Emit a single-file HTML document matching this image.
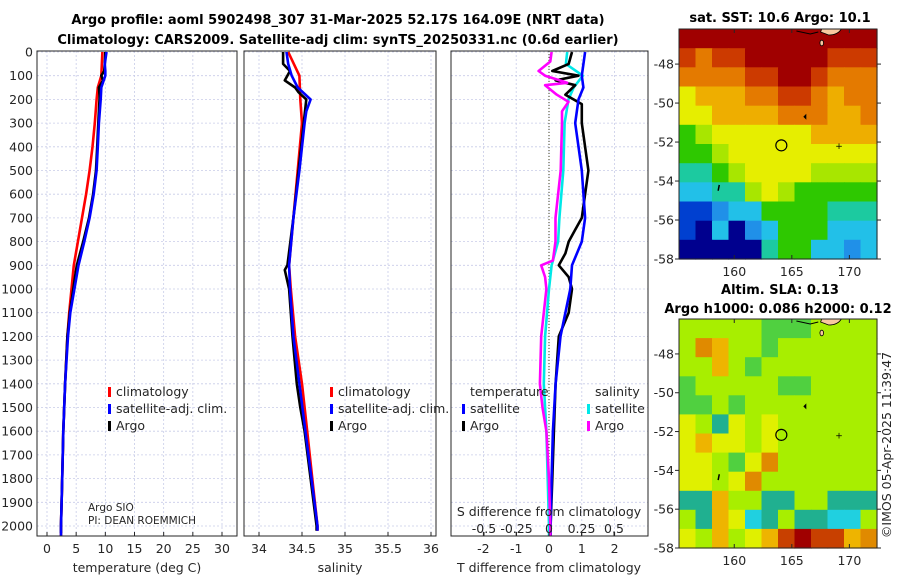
<!DOCTYPE html>
<html><head><meta charset="utf-8"><style>
body{margin:0;background:#fff;}
svg{display:block;font-family:"DejaVu Sans","Liberation Sans",sans-serif;}
</style></head><body>
<svg id="c" width="900" height="580"></svg>
<script>
// ---------- data ----------
const depthTicks=[0,100,200,300,400,500,600,700,800,900,1000,1100,1200,1300,1400,1500,1600,1700,1800,1900,2000];
const tempTicks=[0,5,10,15,20,25,30];
const salTicks=[34,34.5,35,35.5,36];
const salTickLabels=["34","34.5","35","35.5","36"];
const tdiffTicks=[-2,-1,0,1,2];
const sdiffTicks=[-0.5,-0.25,0,0.25,0.5];
const sdiffLabels=["-0.5","-0.25","0","0.25","0.5"];

const tClimDepth=[0,100,150,200,300,400,500,600,700,800,900,1000,1100,1200,1400,1600,1800,2000,2040];
const tClim=[9.5,9.3,8.7,8.5,8.2,7.8,7.3,6.7,6.0,5.3,4.6,4.2,3.8,3.5,3.1,2.8,2.6,2.4,2.4];
const tSatDepth=[0,50,80,100,150,200,300,400,500,600,700,800,900,1000,1100,1200,1400,1600,1800,2000,2040];
const tSat=[10.2,9.9,10.0,10.0,9.3,9.2,8.9,8.7,8.5,8.0,7.3,6.4,5.4,4.7,4.0,3.6,3.1,2.8,2.6,2.4,2.4];
const tArgoDepth=[0,50,80,100,120,150,180,200,300,400,500,600,700,800,900,950,1000,1100,1200,1400,1600,1800,2000,2030];
const tArgo=[10.0,9.9,9.8,9.3,9.6,8.9,9.0,9.0,8.8,8.6,8.4,7.9,7.2,6.2,5.1,4.8,4.5,3.9,3.5,3.1,2.8,2.6,2.4,2.4];

const sClimDepth=[0,100,200,300,500,700,900,1000,1200,1400,1600,1800,2000,2020];
const sClim=[34.34,34.47,34.48,34.5,34.45,34.4,34.35,34.37,34.42,34.5,34.56,34.62,34.68,34.68];
const sSatDepth=[0,50,100,150,200,250,300,500,700,900,1000,1200,1400,1600,1800,2000,2020];
const sSat=[34.32,34.34,34.38,34.45,34.6,34.55,34.53,34.47,34.4,34.35,34.36,34.4,34.47,34.54,34.61,34.68,34.68];
const sArgoDepth=[0,50,80,120,150,170,200,300,500,700,900,920,1000,1200,1400,1500,1600,1800,2000,2020];
const sArgo=[34.28,34.28,34.36,34.3,34.42,34.46,34.55,34.52,34.46,34.4,34.33,34.3,34.35,34.39,34.44,34.48,34.53,34.6,34.67,34.67];

const dTSatDepth=[0,100,150,200,300,500,700,800,900,1000,1100,1200,1400,1600,1800,2000,2040];
const dTSat=[1.1,1.0,1.05,0.9,0.8,1.0,1.1,1.0,0.7,0.65,0.5,0.35,0.2,0.12,0.08,0.05,0.05];
const dTArgoDepth=[0,50,80,100,120,140,180,220,300,400,500,600,700,750,800,850,900,950,1000,1100,1200,1400,1600,1800,2000,2040];
const dTArgo=[0.7,0.6,0.1,0.9,0.2,0.8,0.5,1.0,1.0,1.1,1.2,1.1,1.0,0.8,0.6,0.5,0.3,0.6,0.7,0.6,0.3,0.2,0.15,0.1,0.05,0.05];
const dSSatDepth=[0,50,100,150,200,300,500,700,800,900,1000,1200,1400,1600,1800,2000,2040];
const dSSat=[0.14,0.13,0.26,0.19,0.15,0.12,0.11,0.08,0.07,0.02,0.0,-0.03,-0.04,-0.02,-0.01,0.0,0.0];
const dSArgoDepth=[0,40,80,100,130,140,180,210,250,300,500,700,800,880,900,950,1000,1200,1400,1500,1600,1800,2000,2040];
const dSArgo=[0.02,0.01,-0.08,-0.03,0.14,-0.03,0.06,0.15,0.1,0.1,0.09,0.05,0.05,0.03,-0.06,-0.03,-0.02,-0.06,-0.07,-0.05,-0.02,0.0,0.01,0.01];

// map heatmap grids (color codes 0..b)
const sstRows=["000000000000","121100000111","222211001222","433322112322","443333222332","654444443333","665444444444","776544445555","887754566666","aa9886666777","ab8b98666888","bbbbb7668898"];
const slaRows=["555556665555","523556555555","553565555555","655555665555","665655555555","457454555555","434454555555","445642555555","445425555555","773557755777","573487577885","453543101132"];
const sstColors=["#a00000","#cc3a00","#e47a00","#eeae00","#e6ee00","#a8e600","#2ec800","#1ccaa0","#22c0e8","#2090e8","#0040d0","#00008e"];
const slaColors=["#a00000","#c84000","#e08a00","#eeb400","#e0f000","#a8ee00","#50d040","#20b090","#20d0e0"];
const lonTicks=[160,165,170];
const latTicks=[-48,-50,-52,-54,-56,-58];

// ---------- helpers ----------
const svg=document.getElementById('c');
const NS="http://www.w3.org/2000/svg";
function mk(tag,at,parent){const e=document.createElementNS(NS,tag);for(const k in at)e.setAttribute(k,at[k]);(parent||svg).appendChild(e);return e;}
function txt(x,y,s,at){const e=mk('text',Object.assign({x:x,y:y,'font-size':12.5,fill:'#262626'},at||{}));e.textContent=s;return e;}

const Y0=52,Y1=526; // depth 0 and 2000
const yD=d=>Y0+(Y1-Y0)*d/2000;
const PT=51,PB=536;
const xT=v=>47+v*(222-47)/30;
const xS=v=>259+(v-34)*86;
const xDT=v=>549+v*32.8;
const xDS=v=>549+v*130;

function panel(x0,x1,name,vgrid){
  const g=mk('g',{});  
  mk('rect',{x:x0,y:PT,width:x1-x0,height:PB-PT,fill:'#fff'},g);
  depthTicks.forEach(d=>{mk('line',{x1:x0,x2:x1,y1:yD(d),y2:yD(d),stroke:'#c8cce8','stroke-dasharray':'2,2','stroke-width':0.8},g);});
  vgrid.forEach(x=>{mk('line',{x1:x,x2:x,y1:PT,y2:PB,stroke:'#c8cce8','stroke-dasharray':'2,2','stroke-width':0.8},g);});
  return g;
}
function line(g,xs,ds,fx,color,name,w){
  const p=xs.map((v,i)=>fx(v).toFixed(1)+','+yD(ds[i]).toFixed(1)).join(' ');
  const e=mk('polyline',{points:p,fill:'none',stroke:color,'stroke-width':w||2.6,'stroke-linejoin':'round'},g);
  
  
}
function frame(x0,x1){mk('rect',{x:x0,y:PT,width:x1-x0,height:PB-PT,fill:'none',stroke:'#262626','stroke-width':1});}

// panel 1 temperature
const g1=panel(37,237,'temperature-panel',tempTicks.map(xT));
line(g1,tClim,tClimDepth,xT,'#ff0000','temp-climatology-line');
line(g1,tArgo,tArgoDepth,xT,'#000000','temp-argo-line');
line(g1,tSat,tSatDepth,xT,'#0000ff','temp-satellite-line');
frame(37,237);
depthTicks.forEach(d=>{const e=txt(33,yD(d)+4.5,String(d),{'text-anchor':'end'});});
tempTicks.forEach(v=>{mk('line',{x1:xT(v),x2:xT(v),y1:PB,y2:PB-4,stroke:'#262626'});const e=txt(xT(v),553,String(v),{'text-anchor':'middle'});});
let e=txt(137,572,"temperature (deg C)",{'text-anchor':'middle'});
function legEntry(x,y,color,label,name){const g=mk('g',{});mk('rect',{x:x,y:y-9,width:3,height:10,fill:color},g);const t=txt(x+8,y,label,{},);g.appendChild(t);}
legEntry(108,396,'#ff0000','climatology','legend-climatology');
legEntry(108,413,'#0000ff','satellite-adj. clim.','legend-satellite-adj');
legEntry(108,430,'#000000','Argo','legend-argo');
e=txt(88,511,"Argo SIO",{'font-size':10.5});
e=txt(88,524,"PI: DEAN ROEMMICH",{'font-size':10.5});

// panel 2 salinity
const g2=panel(244,436,'salinity-panel',salTicks.map(xS));
line(g2,sClim,sClimDepth,xS,'#ff0000','sal-climatology-line');
line(g2,sArgo,sArgoDepth,xS,'#000000','sal-argo-line');
line(g2,sSat,sSatDepth,xS,'#0000ff','sal-satellite-line');
frame(244,436);
salTicks.forEach((v,i)=>{mk('line',{x1:xS(v),x2:xS(v),y1:PB,y2:PB-4,stroke:'#262626'});const e=txt(xS(v),553,salTickLabels[i],{'text-anchor':'middle'});});
e=txt(340,572,"salinity",{'text-anchor':'middle'});
legEntry(330,396,'#ff0000','climatology','legend-sal-climatology');
legEntry(330,413,'#0000ff','satellite-adj. clim.','legend-sal-satellite-adj');
legEntry(330,430,'#000000','Argo','legend-sal-argo');

// panel 3 differences
const g3=panel(451,648,'difference-panel',tdiffTicks.map(xDT));
mk('line',{x1:549,x2:549,y1:PT,y2:PB,stroke:'#404020','stroke-dasharray':'1,2','stroke-width':1},g3);
line(g3,dSSat,dSSatDepth,xDS,'#00e8e8','sdiff-satellite-line');
line(g3,dTArgo,dTArgoDepth,xDT,'#000000','tdiff-argo-line');
line(g3,dTSat,dTSatDepth,xDT,'#0000ff','tdiff-satellite-line');
line(g3,dSArgo,dSArgoDepth,xDS,'#ff00ff','sdiff-argo-line');
frame(451,648);
tdiffTicks.forEach(v=>{mk('line',{x1:xDT(v),x2:xDT(v),y1:PB,y2:PB-4,stroke:'#262626'});const e=txt(xDT(v),553,String(v),{'text-anchor':'middle'});});
sdiffTicks.forEach((v,i)=>{mk('line',{x1:xDS(v),x2:xDS(v),y1:PB,y2:PB-4,stroke:'#262626'});const e=txt(xDS(v),533,sdiffLabels[i],{'text-anchor':'middle'});});
e=txt(549,516,"S difference from climatology",{'text-anchor':'middle'});
e=txt(549,572,"T difference from climatology",{'text-anchor':'middle'});
e=txt(470,396,"temperature");
e=txt(595,396,"salinity");
legEntry(462,413,'#0000ff','satellite','legend-tdiff-satellite');
legEntry(462,430,'#000000','Argo','legend-tdiff-argo');
legEntry(587,413,'#00e8e8','satellite','legend-sdiff-satellite');
legEntry(587,430,'#ff00ff','Argo','legend-sdiff-argo');

// titles (drawn after panels)
const t1=txt(338,24,"Argo profile: aoml 5902498_307 31-Mar-2025 52.17S 164.09E (NRT data)",{'font-weight':'bold','text-anchor':'middle','font-size':13,fill:'#000'});

const t2=txt(338,44,"Climatology: CARS2009. Satellite-adj clim: synTS_20250331.nc (0.6d earlier)",{'font-weight':'bold','text-anchor':'middle','font-size':13,fill:'#000'});


// ---------- maps ----------
function map(x0,y0,x1,y1,rows,colors,name,latTop,latBot){
  const g=mk('g',{});
  const nr=rows.length,nc=rows[0].length,cw=(x1-x0)/nc,ch=(y1-y0)/nr;
  rows.forEach((r,i)=>{for(let j=0;j<nc;j++){const c=mk('rect',{x:(x0+j*cw).toFixed(1),y:(y0+i*ch).toFixed(1),width:(cw+0.6).toFixed(1),height:(ch+0.6).toFixed(1),fill:colors[parseInt(r[j],16)]},g);}});
  const lx=v=>x0+(v-155.2)*(x1-x0)/(172.4-155.2);
  const ly=v=>y0+(latTop-v)*(y1-y0)/(latTop-latBot);
  mk('path',{d:`M${lx(167.6)} ${y0} L${lx(169.3)} ${y0} Q${lx(169)} ${y0+6} ${lx(168.2)} ${y0+6} L${lx(167.5)} ${y0+3} Z`,fill:'#f8c8a0',stroke:'#000','stroke-width':0.8},g);
  mk('path',{d:`M${lx(165.4)} ${y0+2} L${lx(166.6)} ${y0+5} L${lx(167.3)} ${y0+3}`,fill:'none',stroke:'#000','stroke-width':1},g);
  mk('ellipse',{cx:lx(167.6),cy:y0+14,rx:1.8,ry:2.8,fill:'#f8c8a0',stroke:'#000','stroke-width':0.8},g);
  mk('path',{d:`M${lx(166)} ${ly(-50.7)} l3 -3 l0 6 z`,fill:'#000'},g);
  mk('text',{x:lx(169.1),y:ly(-52.2)+3,'font-size':9,fill:'#000','text-anchor':'middle'},g).textContent='+';
  mk('line',{x1:lx(158.7),x2:lx(158.6),y1:ly(-54.2),y2:ly(-54.5),stroke:'#000','stroke-width':1.5},g);
  const ci=mk('circle',{cx:lx(164.09),cy:ly(-52.17),r:5.5,fill:'none',stroke:'#000','stroke-width':1.2},g);
  
  mk('rect',{x:x0,y:y0,width:x1-x0,height:y1-y0,fill:'none',stroke:'#262626'},g);
  lonTicks.forEach(v=>{mk('line',{x1:lx(v),x2:lx(v),y1:y1,y2:y1-4,stroke:'#262626'},g);mk('line',{x1:lx(v),x2:lx(v),y1:y0,y2:y0+4,stroke:'#262626'},g);const t=txt(lx(v),y1+17,String(v),{'text-anchor':'middle'});});
  latTicks.forEach(v=>{mk('line',{x1:x0,x2:x0-4,y1:ly(v),y2:ly(v),stroke:'#262626'},g);mk('line',{x1:x1,x2:x1+4,y1:ly(v),y2:ly(v),stroke:'#262626'},g);const t=txt(x0-5,ly(v)+4.5,String(v),{'text-anchor':'end'});});
}
map(679,29,877,259,sstRows,sstColors,'sst-map',-46.2,-58);
map(679,319,877,548,slaRows,slaColors,'sla-map',-46.2,-58);
e=txt(780,22,"sat. SST: 10.6 Argo: 10.1",{'font-weight':'bold','text-anchor':'middle','font-size':13,fill:'#000'});
e=txt(780,294,"Altim. SLA: 0.13",{'font-weight':'bold','text-anchor':'middle','font-size':13,fill:'#000'});
e=txt(778,313,"Argo h1000: 0.086 h2000: 0.12",{'font-weight':'bold','text-anchor':'middle','font-size':13,fill:'#000'});
e=txt(0,0,"©IMOS 05-Apr-2025 11:39:47",{'font-size':12.5,'text-anchor':'middle',transform:'translate(891,445) rotate(-90)'});
</script>
</body></html>
